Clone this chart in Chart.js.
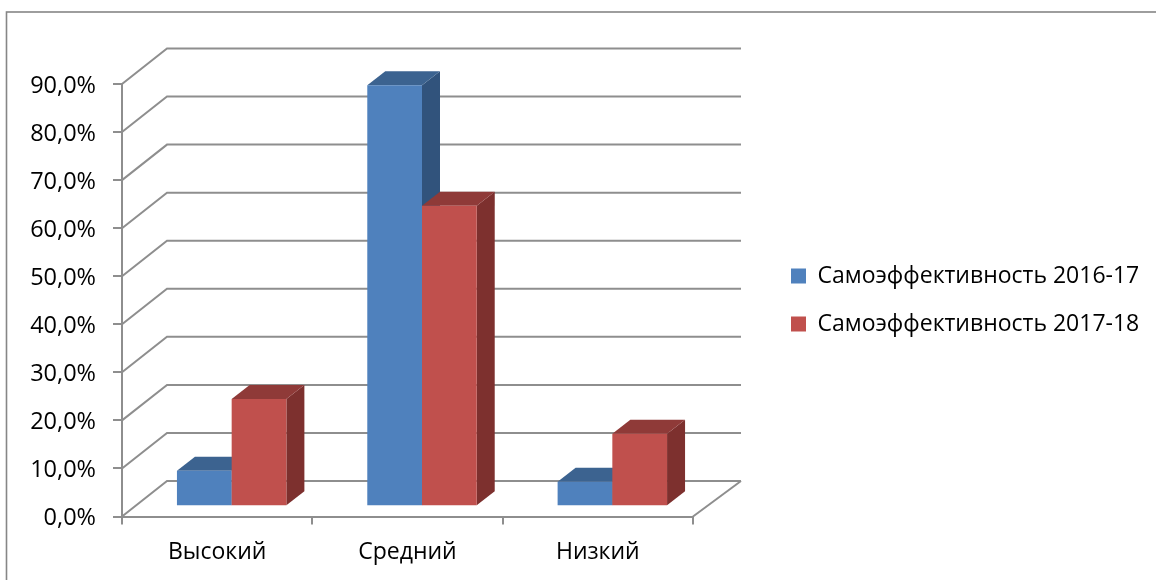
<!DOCTYPE html>
<html><head><meta charset="utf-8">
<style>html,body{margin:0;padding:0;background:#fff}canvas{display:block}</style>
<script src="https://cdn.jsdelivr.net/npm/chart.js@4"></script>
</head><body><canvas id="c" width="1156" height="580"></canvas>
<script>
const categories = ['Высокий', 'Средний', 'Низкий'];
const series2016 = [7.4, 87.6, 5.1];
const series2017 = [22.3, 62.5, 15.1];
const seriesNames = ['Самоэффективность 2016-17', 'Самоэффективность 2017-18'];
const FONT = 'Open Sans';
const GRID = '#8e8e8e';
const palette = [
  {front:'#4F81BD', side:'#31537C', top:'#3C6390'},
  {front:'#C0504D', side:'#7D302E', top:'#8F3A38'}
];
const wall = {dxL:45, dxR:48, dy:-35.5};
const bar3d = {ox:14.5, oy:-10.3, dx:18, dy:-14};

const perspective = {
  id:'perspective',
  afterLayout(chart){
    const lg = chart.legend;
    lg.left = 766; lg.right = 1156;
    const h = lg.bottom - lg.top;
    lg.top = 300 - h/2; lg.bottom = lg.top + h;
  },
  beforeDraw(chart){
    const c = chart.ctx;
    c.save();
    c.strokeStyle = '#868686'; c.lineWidth = 1.6;
    c.strokeRect(6.5, 12, 1160, 600);
    c.restore();
  },
  beforeDatasetsDraw(chart){
    const c = chart.ctx, y = chart.scales.y, a = chart.chartArea;
    c.save();
    c.strokeStyle = GRID; c.lineWidth = 2;
    y.ticks.forEach((t,i)=>{
      const p = y.getPixelForTick(i);
      c.beginPath();
      c.moveTo(a.left, p);
      c.lineTo(a.left + wall.dxL, p + wall.dy);
      c.lineTo(a.right + wall.dxR, p + wall.dy);
      c.stroke();
    });
    c.beginPath();
    c.moveTo(a.right, a.bottom);
    c.lineTo(a.right + wall.dxR, a.bottom + wall.dy);
    c.stroke();
    c.restore();
    chart.getSortedVisibleDatasetMetas().forEach((m)=>{
      const col = palette[m.index];
      c.save();
      c.translate(bar3d.ox, bar3d.oy);
      m.data.forEach(el=>{
        const l = el.x - el.width/2, r = el.x + el.width/2;
        c.fillStyle = col.side;
        c.beginPath();
        c.moveTo(r, el.y); c.lineTo(r + bar3d.dx, el.y + bar3d.dy);
        c.lineTo(r + bar3d.dx, el.base + bar3d.dy); c.lineTo(r, el.base);
        c.closePath(); c.fill();
        c.fillStyle = col.top;
        c.beginPath();
        c.moveTo(l, el.y); c.lineTo(l + bar3d.dx, el.y + bar3d.dy);
        c.lineTo(r + bar3d.dx, el.y + bar3d.dy); c.lineTo(r, el.y);
        c.closePath(); c.fill();
        el.draw(c);
      });
      c.restore();
    });
    return false;
  }
};

new Chart(document.getElementById('c'), {
  type:'bar',
  data:{labels:categories, datasets:[
    {label:seriesNames[0], data:series2016, backgroundColor:palette[0].front, categoryPercentage:0.575, barPercentage:1},
    {label:seriesNames[1], data:series2017, backgroundColor:palette[1].front, categoryPercentage:0.575, barPercentage:1}
  ]},
  options:{
    responsive:false, animation:false,
    layout:{padding:{left:0, top:84, right:83, bottom:0}},
    plugins:{
      tooltip:{enabled:false},
      legend:{position:'right', maxWidth:380, labels:{boxWidth:15, boxHeight:15, padding:25, color:'#000', font:{family:FONT, size:23}}}
    },
    scales:{
      x:{
        afterFit(s){ s.height = 63.5; },
        grid:{drawOnChartArea:false, tickLength:8, color:GRID, lineWidth:2},
        border:{color:GRID, width:2},
        ticks:{color:'#000', padding:14, font:{family:FONT, size:23}}
      },
      y:{
        min:0, max:90,
        afterFit(s){ s.width = 122; },
        grid:{drawOnChartArea:false, tickLength:9, color:GRID, lineWidth:2},
        border:{color:GRID, width:2},
        ticks:{stepSize:10, color:'#000', padding:17, labelOffset:2, font:{family:FONT, size:23.5},
          callback:v=>v.toFixed(1).replace('.',',')+'%'}
      }
    }
  },
  plugins:[perspective]
});
</script></body></html>
